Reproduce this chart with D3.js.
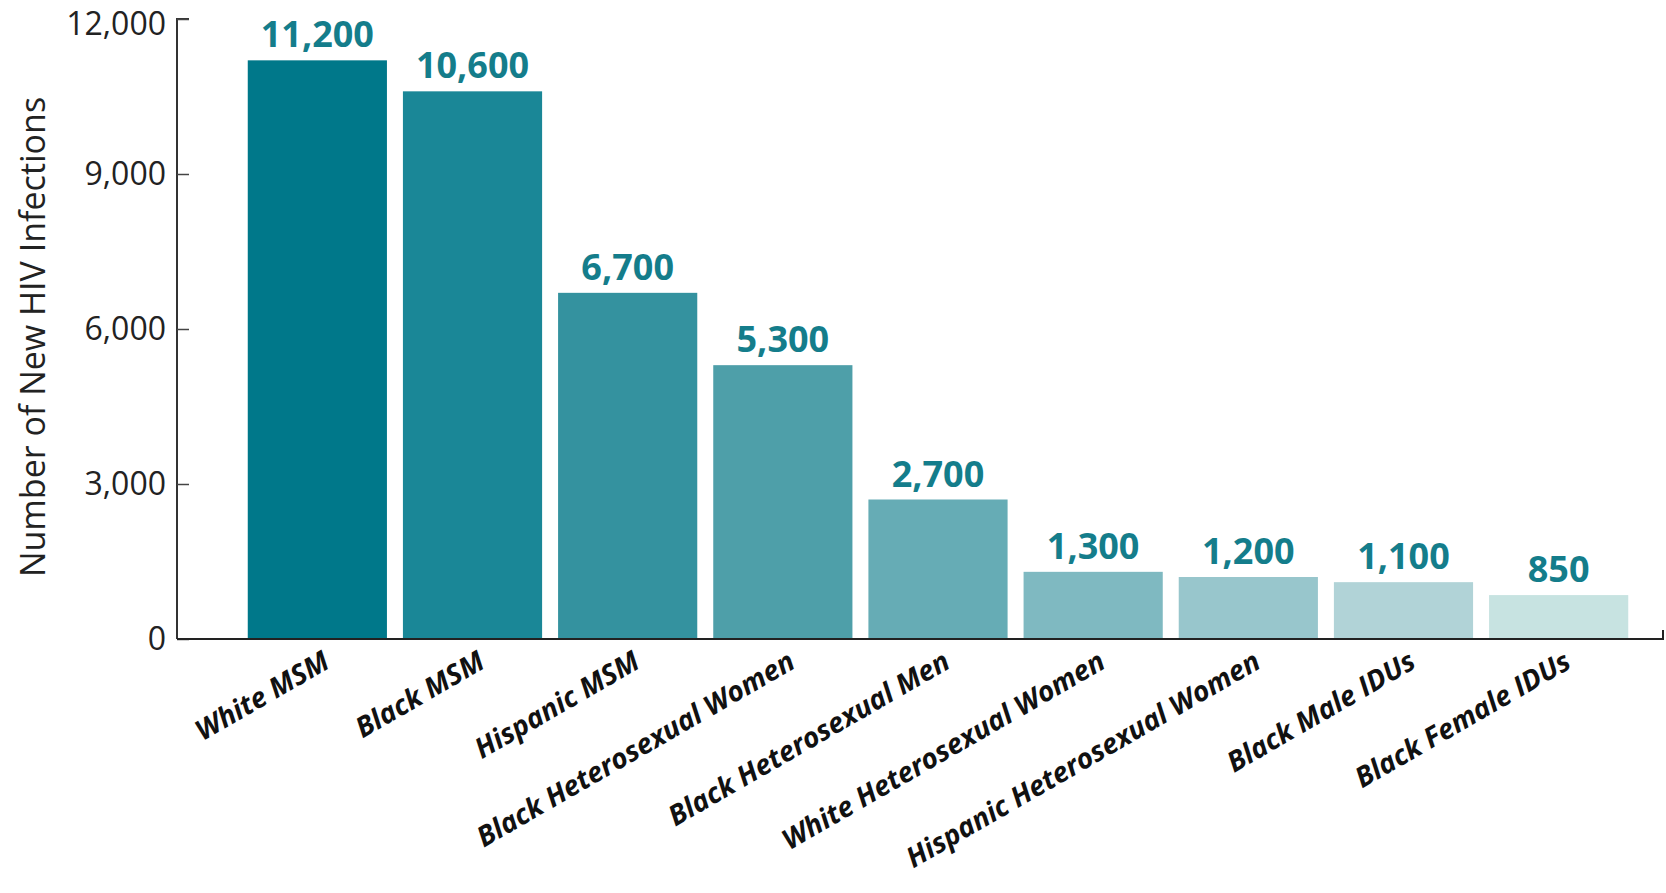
<!DOCTYPE html>
<html>
<head>
<meta charset="utf-8">
<script src="https://cdn.jsdelivr.net/npm/d3@7/dist/d3.min.js"></script>
<style>
  html, body { margin: 0; padding: 0; background: #fff; }
  svg { display: block; }
</style>
</head>
<body>
<svg id="chart" width="1666" height="893"></svg>
<script>
const categories = ["White MSM", "Black MSM", "Hispanic MSM", "Black Heterosexual Women",
  "Black Heterosexual Men", "White Heterosexual Women", "Hispanic Heterosexual Women",
  "Black Male IDUs", "Black Female IDUs"];
const values = [11200, 10600, 6700, 5300, 2700, 1300, 1200, 1100, 850];
const valueLabels = ["11,200", "10,600", "6,700", "5,300", "2,700", "1,300", "1,200", "1,100", "850"];
const barColors = ["#00788a", "#1a8797", "#34929f", "#4e9fa9", "#66acb5", "#7fb9c1", "#98c6cc", "#b1d3d7", "#c7e3e1"];
const yTicks = [0, 3000, 6000, 9000, 12000];
const yTitle = "Number of New HIV Infections";

const svg = d3.select("#chart");
const x0 = 177, x1 = 1663, yBottom = 639, yTop = 19;

const y = d3.scaleLinear().domain([0, 12000]).range([yBottom, yTop]);
const x = d3.scaleBand().domain(categories).range([240, 1636]).paddingInner(0.103).paddingOuter(0.05);

// bars
svg.selectAll("rect.bar").data(values).enter().append("rect")
  .attr("x", (d, i) => x(categories[i]))
  .attr("width", x.bandwidth())
  .attr("y", d => y(d))
  .attr("height", d => yBottom - y(d))
  .attr("fill", (d, i) => barColors[i]);

// y axis
const yAxis = d3.axisRight(y).tickValues(yTicks).tickSize(12).tickFormat("");
const ga = svg.append("g").attr("transform", `translate(${x0},0)`).call(yAxis);
ga.select(".domain").attr("d", `M12,${yTop}H0V${yBottom}`).attr("stroke", "#333").attr("stroke-width", 2);
ga.selectAll(".tick line").attr("stroke", "#444").attr("stroke-width", 1.5);

svg.selectAll("text.ytick").data(yTicks).enter().append("text")
  .attr("x", 166).attr("y", d => Math.max(y(d) + 11, 35))
  .attr("text-anchor", "end")
  .attr("font-family", "Open Sans, sans-serif")
  .attr("font-size", 32)
  .attr("fill", "#222")
  .text(d => d3.format(",")(d));

// x axis line
svg.append("path")
  .attr("d", `M${x0},${yBottom}H${x1}V${yBottom - 9}`)
  .attr("fill", "none").attr("stroke", "#222").attr("stroke-width", 2);

// value labels
svg.selectAll("text.val").data(values).enter().append("text")
  .attr("x", (d, i) => x(categories[i]) + x.bandwidth() / 2)
  .attr("y", d => y(d) - 13)
  .attr("text-anchor", "middle")
  .attr("font-family", "Open Sans, sans-serif")
  .attr("font-weight", "bold")
  .attr("font-size", 36)
  .attr("fill", "#147d8b")
  .text((d, i) => valueLabels[i]);

// category labels
svg.selectAll("text.cat").data(categories).enter().append("text")
  .attr("transform", d => `translate(${x(d) + x.bandwidth() / 2 + 14},${yBottom + 28}) rotate(-30)`)
  .attr("text-anchor", "end")
  .attr("font-family", "Open Sans, sans-serif")
  .attr("font-weight", "bold")
  .attr("font-style", "italic")
  .attr("font-size", 28)
  .attr("fill", "#111")
  .text(d => d);

// y title
svg.append("text")
  .attr("transform", `translate(45,337) rotate(-90)`)
  .attr("text-anchor", "middle")
  .attr("font-family", "Open Sans, sans-serif")
  .attr("font-size", 34)
  .attr("fill", "#222")
  .text(yTitle);
</script>
</body>
</html>
